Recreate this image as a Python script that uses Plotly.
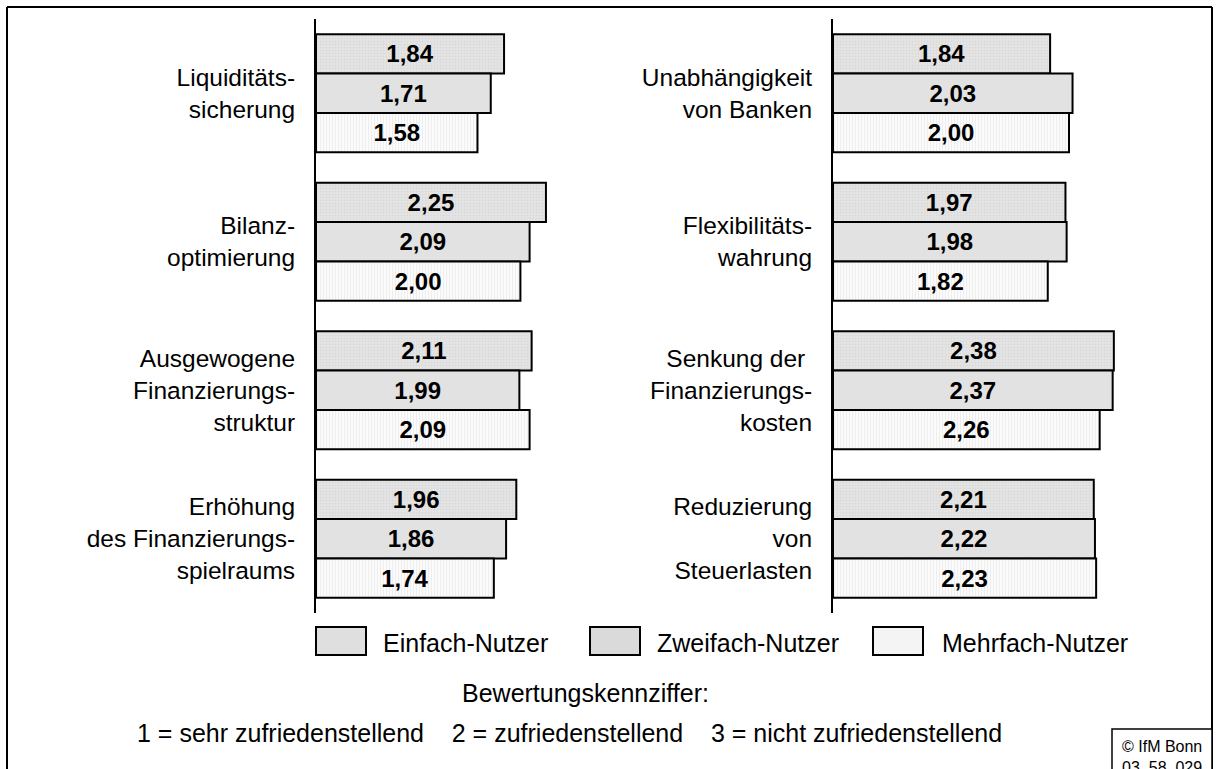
import plotly.graph_objects as go

# Survey ratings (1 = very satisfactory ... 3 = not satisfactory)
left_categories = [
    "Liquiditäts-<br>sicherung",
    "Bilanz-<br>optimierung",
    "Ausgewogene<br>Finanzierungs-<br>struktur",
    "Erhöhung<br>des Finanzierungs-<br>spielraums",
]
right_categories = [
    "Unabhängigkeit<br>von Banken",
    "Flexibilitäts-<br>wahrung",
    "Senkung der <br>Finanzierungs-<br>kosten",
    "Reduzierung<br>von<br>Steuerlasten",
]
series_names = ["Einfach-Nutzer", "Zweifach-Nutzer", "Mehrfach-Nutzer"]

left_einfach = [1.84, 2.25, 2.11, 1.96]
left_zweifach = [1.71, 2.09, 1.99, 1.86]
left_mehrfach = [1.58, 2.00, 2.09, 1.74]

right_einfach = [1.84, 1.97, 2.38, 2.21]
right_zweifach = [2.03, 1.98, 2.37, 2.22]
right_mehrfach = [2.00, 1.82, 2.26, 2.23]

scale_title = "Bewertungskennziffer:"
scale_text = "1 = sehr zufriedenstellend    2 = zufriedenstellend    3 = nicht zufriedenstellend"

FONT = "Liberation Sans, Arial, sans-serif"
W, H = 1217, 769

styles = [
    dict(bg="#e4e4e4", fg="#cdcdcd", shape=".", size=3, solidity=0.35, swatch="#dfdfdf"),
    dict(bg="#ececec", fg="#b5b5b5", shape=".", size=2, solidity=0.45, swatch="#dadada"),
    dict(bg="#fbfbfb", fg="#d8d8d8", shape="|", size=3, solidity=0.25, swatch="#f4f4f4"),
]


def fmt(v):
    return "<b>" + f"{v:.2f}".replace(".", ",") + "</b>"


def px_x(p):
    return p / W


def px_y(p):
    return 1 - p / H


fig = go.Figure()

panels = [
    ("x", "y", left_categories, [left_einfach, left_zweifach, left_mehrfach]),
    ("x2", "y2", right_categories, [right_einfach, right_zweifach, right_mehrfach]),
]
for xa, ya, cats, values in panels:
    for name, vals, st in zip(series_names, values, styles):
        fig.add_trace(go.Bar(
            orientation="h",
            x=vals,
            y=cats,
            name=name,
            xaxis=xa,
            yaxis=ya,
            text=[fmt(v) for v in vals],
            textposition="inside",
            insidetextanchor="middle",
            constraintext="none",
            textfont=dict(family=FONT, size=24, color="#000000"),
            marker=dict(
                color=st["bg"],
                line=dict(color="#000000", width=2),
                pattern=dict(shape=st["shape"], fgcolor=st["fg"], bgcolor=st["bg"],
                             size=st["size"], solidity=st["solidity"], fillmode="overlay"),
            ),
            showlegend=False,
            hoverinfo="skip",
        ))

y_dom = [px_y(613), px_y(19)]
axis_common = dict(showgrid=False, zeroline=False, showticklabels=False, showline=False, ticks="")
yaxis_common = dict(
    showgrid=False, zeroline=False, showline=True, linecolor="#000000", linewidth=2,
    ticks="", autorange="reversed", domain=y_dom, ticklabelstandoff=14,
    tickfont=dict(family=FONT, size=24.5, color="#000000"),
)

# pixel scale: left ~102.2 px per unit, right ~118 px per unit
left_start, left_end = 316, 600
right_start, right_end = 833, 1190
fig.update_layout(
    width=W, height=H,
    margin=dict(l=0, r=0, t=0, b=0),
    paper_bgcolor="#ffffff",
    plot_bgcolor="rgba(0,0,0,0)",
    barmode="group",
    bargap=0.205,
    bargroupgap=0,
    font=dict(family=FONT, color="#000000"),
    xaxis=dict(domain=[px_x(left_start), px_x(left_end)],
               range=[0, (left_end - left_start) / 102.2], anchor="y", **axis_common),
    yaxis=dict(anchor="x", **yaxis_common),
    xaxis2=dict(domain=[px_x(right_start), px_x(right_end)],
                range=[0, (right_end - right_start) / 118.0], anchor="y2", **axis_common),
    yaxis2=dict(anchor="x2", **yaxis_common),
)

shapes = []
# outer frame (open at the bottom edge of the page)
shapes.append(dict(type="line", xref="paper", yref="paper", x0=px_x(7), x1=px_x(1212),
                   y0=px_y(7), y1=px_y(7), line=dict(color="#000000", width=2)))
shapes.append(dict(type="line", xref="paper", yref="paper", x0=px_x(7), x1=px_x(7),
                   y0=px_y(7), y1=px_y(780), line=dict(color="#000000", width=2)))
shapes.append(dict(type="line", xref="paper", yref="paper", x0=px_x(1212), x1=px_x(1212),
                   y0=px_y(7), y1=px_y(780), line=dict(color="#000000", width=2)))
# copyright box
shapes.append(dict(type="rect", xref="paper", yref="paper", x0=px_x(1112), x1=px_x(1212),
                   y0=px_y(780), y1=px_y(729), line=dict(color="#000000", width=1.5),
                   fillcolor="#ffffff"))

annotations = []
# legend swatches and labels
legend_pos = [(316, 381), (590, 655), (873, 940)]
for (sx, tx), name, st in zip(legend_pos, series_names, styles):
    shapes.append(dict(type="rect", xref="paper", yref="paper", x0=px_x(sx), x1=px_x(sx + 50),
                       y0=px_y(655), y1=px_y(627), line=dict(color="#000000", width=2),
                       fillcolor=st["swatch"]))
    annotations.append(dict(xref="paper", yref="paper", x=px_x(tx), y=px_y(643),
                            xanchor="left", yanchor="middle", showarrow=False, text=name,
                            font=dict(family=FONT, size=25, color="#000000")))

annotations.append(dict(xref="paper", yref="paper", x=px_x(585), y=px_y(693),
                        xanchor="center", yanchor="middle", showarrow=False, text=scale_title,
                        font=dict(family=FONT, size=25, color="#000000")))
annotations.append(dict(xref="paper", yref="paper", x=px_x(569), y=px_y(733),
                        xanchor="center", yanchor="middle", showarrow=False, text=scale_text,
                        font=dict(family=FONT, size=25, color="#000000")))
annotations.append(dict(xref="paper", yref="paper", x=px_x(1162), y=px_y(736),
                        xanchor="center", yanchor="top", showarrow=False,
                        text="© IfM Bonn<br>03_58_029", align="center",
                        font=dict(family=FONT, size=16, color="#000000")))

fig.update_layout(shapes=shapes, annotations=annotations)

fig.write_html("out.html")
